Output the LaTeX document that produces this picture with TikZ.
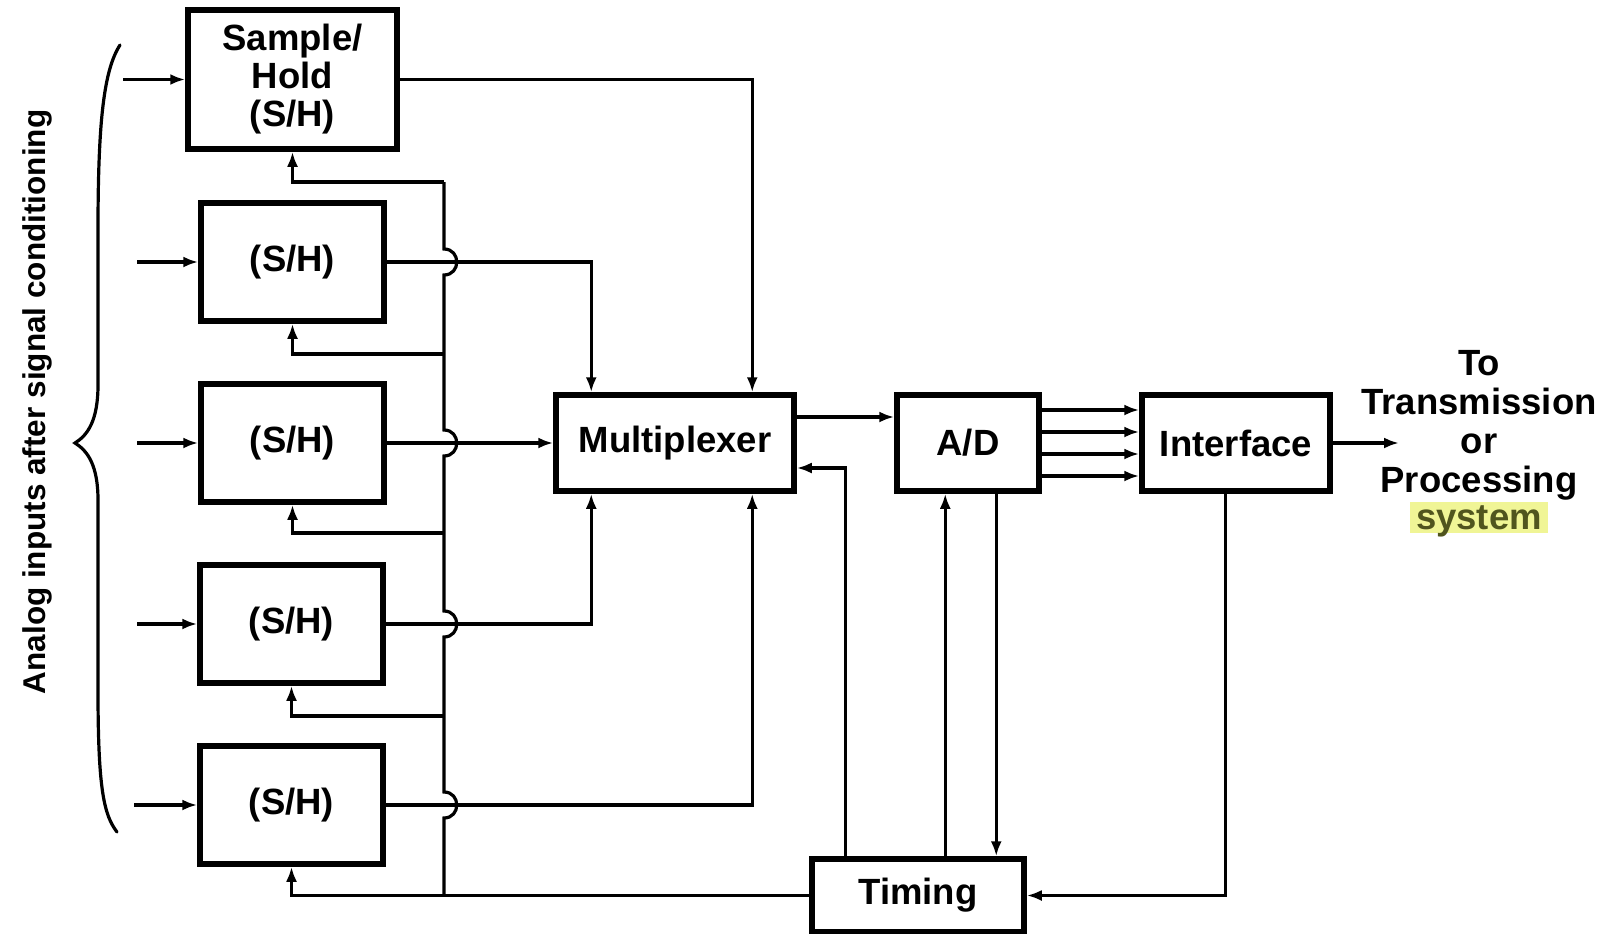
\documentclass[tikz,border=0pt]{standalone}
\usepackage{fontspec}
\setmainfont{Liberation Sans}
\usetikzlibrary{arrows.meta,calc}
\definecolor{hl}{RGB}{240,245,150}
\definecolor{systxt}{RGB}{80,85,30}
\begin{document}
\begin{tikzpicture}[x=1pt,y=-1pt,
  blk/.style={draw,line width=5.5pt,minimum width=183pt,minimum height=118pt,inner sep=0pt,font=\fontsize{36.5}{38}\selectfont\bfseries},
  conn/.style={line width=3.2pt},
  arr/.style={conn,-{Latex[length=15pt,width=11pt]}},
  lbl/.style={font=\fontsize{36.5}{38}\selectfont\bfseries,inner sep=0pt,anchor=base}]
\useasboundingbox (0,0) rectangle (1610,934);

% blocks
\node[blk,minimum width=209pt,minimum height=139pt,align=center] (sh1) at (292.5,79.5) {Sample/\\Hold\\(S/H)};
\node[blk] (sh2) at (292.5,262) {(S/H)};
\node[blk] (sh3) at (292.5,443) {(S/H)};
\node[blk] (sh4) at (291.5,624) {(S/H)};
\node[blk] (sh5) at (291.5,805) {(S/H)};
\node[blk,minimum width=238pt,minimum height=96pt] (mux) at (675,443) {Multiplexer};
\node[blk,minimum width=142pt,minimum height=96pt] (ad) at (968,443) {A/D};
\node[blk,minimum width=188pt,minimum height=96pt] (if) at (1236,443) {Interface};
\node[blk,minimum width=212pt,minimum height=73pt] (tim) at (918,895.5) {Timing};

% left label and brace
\node[font=\fontsize{31.5}{36}\selectfont\bfseries,rotate=90,inner sep=0pt] (lt) at (37,402) {Analog inputs after signal conditioning};
\draw[conn,line cap=round] (120,45) .. controls (104,70) and (98,120) .. (98,230) -- (98,385)
  .. controls (98,420) and (88,435) .. (75,443) .. controls (88,451) and (98,466) .. (98,500)
  -- (98,690) .. controls (98,790) and (104,815) .. (117,832);

% inputs
\coordinate (i1) at (123,79.5);
\coordinate (i2) at (137,262);
\coordinate (i3) at (137,443);
\coordinate (i4) at (137,624);
\coordinate (i5) at (134,805);
\draw[arr] (i1) -- (sh1.west);
\draw[arr] (i2) -- (sh2.west);
\draw[arr] (i3) -- (sh3.west);
\draw[arr] (i4) -- (sh4.west);
\draw[arr] (i5) -- (sh5.west);

% outputs to multiplexer
\draw[arr] (sh1.east) -| ([xshift=199pt]mux.north west);
\draw[arr] (sh2.east) -| ([xshift=38pt]mux.north west);
\draw[arr] (sh3.east) -- (mux.west);
\draw[arr] (sh4.east) -| ([xshift=38pt]mux.south west);
\draw[arr] (sh5.east) -| ([xshift=199pt]mux.south west);

% control bus
\coordinate (b1) at (444,182);
\coordinate (b2) at (444,354);
\coordinate (b3) at (444,533);
\coordinate (b4) at (444,716);
\coordinate (b5) at (tim.west -| b1);
\draw[conn] (b1) -- (444,249) .. controls (461,249) and (461,275) .. (444,275)
  -- (444,430) .. controls (461,430) and (461,456) .. (444,456)
  -- (444,611) .. controls (461,611) and (461,637) .. (444,637)
  -- (444,792) .. controls (461,792) and (461,818) .. (444,818) -- (b5);
\draw[arr] (b1) -| (sh1.south);
\draw[arr] (b2) -| (sh2.south);
\draw[arr] (b3) -| (sh3.south);
\draw[arr] (b4) -| (sh4.south);
\draw[arr] (tim.west) -| (sh5.south);

% right part
\draw[arr] ([yshift=26pt]mux.east) -- ([yshift=26pt]ad.west);
\draw[arr] ([xshift=36pt]tim.north west) |- ([yshift=-25pt]mux.east);
\draw[arr] ([xshift=136pt]tim.north west) -- ([xshift=51pt]ad.south west);
\draw[arr] ([xshift=102pt]ad.south west) -- ([xshift=187pt]tim.north west);
\foreach \s in {33,11,-11,-33} \draw[arr] ([yshift=\s pt]ad.east) -- ([yshift=\s pt]if.west);
\draw[arr] ([xshift=86pt]if.south west) |- (tim.east);
\coordinate (out) at (1399,443);
\draw[arr] (if.east) -- (out);

% destination text
\node[lbl] (t1) at (1479,375) {To};
\node[lbl] (t2) at (1479,414) {Transmission};
\node[lbl] (t3) at (1479,453) {or};
\node[lbl] (t4) at (1479,492) {Processing};
\node[lbl,fill=hl,text=systxt,text height=27pt,text depth=4pt,inner xsep=6pt] (t5) at (1479,529) {system};
\end{tikzpicture}
\end{document}
